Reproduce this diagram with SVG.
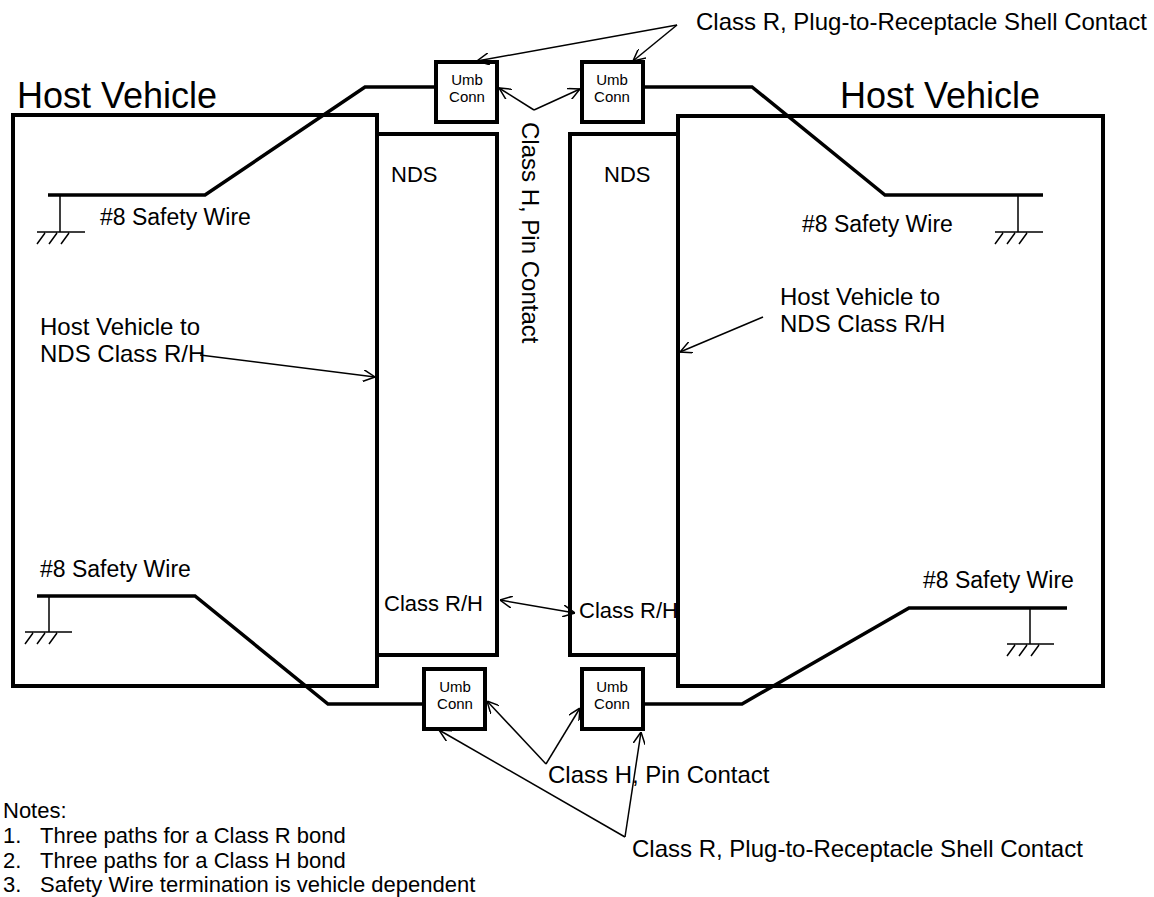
<svg xmlns="http://www.w3.org/2000/svg" width="1154" height="897" viewBox="0 0 1154 897">
<defs>
<style>
text{font-family:"Liberation Sans",Arial,sans-serif;fill:#000}
.box{fill:none;stroke:#000;stroke-width:4}
.wire{fill:none;stroke:#000;stroke-width:3.5}
.gnd{fill:none;stroke:#000;stroke-width:1.5}
.arr{fill:none;stroke:#000;stroke-width:1.5}
.big{font-size:36px}
.lbl{font-size:24px}
.sw{font-size:23px}
.nds{font-size:22px}
.umb{font-size:15px;text-anchor:middle}
.note{font-size:22px}
</style>
<marker id="ah" viewBox="0 0 12 12" refX="12" refY="6" markerWidth="12" markerHeight="12" markerUnits="userSpaceOnUse" orient="auto-start-reverse">
<path d="M0,0 L12,6 L0,12" fill="none" stroke="#000" stroke-width="1.5"/>
</marker>
</defs>
<rect width="1154" height="897" fill="#fff"/>

<g id="host-left">
<path class="box" d="M377,115 H13 V686 H377 Z"/>
<text class="big" x="17" y="108">Host Vehicle</text>
</g>
<g id="host-right">
<path class="box" d="M678,116 H1103 V686 H678 Z"/>
<text class="big" x="840" y="108">Host Vehicle</text>
</g>
<g id="nds-left">
<rect class="box" x="377" y="134" width="120" height="521"/>
<text class="nds" x="391" y="182">NDS</text>
<text class="nds" x="384" y="611">Class R/H</text>
</g>
<g id="nds-right">
<rect class="box" x="570" y="134" width="108" height="521"/>
<text class="nds" x="604" y="182">NDS</text>
<text class="nds" x="579" y="618">Class R/H</text>
</g>

<g id="umb-top-left">
<rect class="box" x="436" y="62" width="61" height="60"/>
<text class="umb" x="467" y="85">Umb</text>
<text class="umb" x="467" y="102">Conn</text>
</g>
<g id="umb-top-right">
<rect class="box" x="582" y="62" width="61" height="60"/>
<text class="umb" x="612" y="85">Umb</text>
<text class="umb" x="612" y="102">Conn</text>
</g>
<g id="umb-bottom-left">
<rect class="box" x="424" y="669" width="61" height="60"/>
<text class="umb" x="455" y="692">Umb</text>
<text class="umb" x="455" y="709">Conn</text>
</g>
<g id="umb-bottom-right">
<rect class="box" x="582" y="669" width="61" height="60"/>
<text class="umb" x="612" y="692">Umb</text>
<text class="umb" x="612" y="709">Conn</text>
</g>

<g id="wire-top-left">
<path class="wire" d="M48,195 H205 L365,87 H436"/>
<path class="gnd" d="M60,195 V232 M37,232 H85 M37,244 L45,233 M49,244 L57,233 M61,244 L69,233"/>
<text class="sw" x="100" y="225">#8  Safety Wire</text>
</g>
<g id="wire-top-right">
<path class="wire" d="M643,87 H752 L885,195 H1043"/>
<path class="gnd" d="M1018,195 V232 M995,232 H1043 M995,244 L1003,233 M1007,244 L1015,233 M1019,244 L1027,233"/>
<text class="sw" x="802" y="232">#8 Safety Wire</text>
</g>
<g id="wire-bottom-left">
<path class="wire" d="M37,596 H195 L328,704 H424"/>
<path class="gnd" d="M49,596 V632 M25,632 H72 M25,644 L33,633 M37,644 L45,633 M49,644 L57,633"/>
<text class="sw" x="40" y="577">#8 Safety Wire</text>
</g>
<g id="wire-bottom-right">
<path class="wire" d="M643,704 H742 L909,608 H1067"/>
<path class="gnd" d="M1030,608 V644 M1007,644 H1054 M1007,656 L1015,645 M1019,656 L1027,645 M1031,656 L1039,645"/>
<text class="sw" x="923" y="588">#8 Safety Wire</text>
</g>

<g id="connectors">
<path class="arr" d="M677,25 L477,61" marker-end="url(#ah)"/>
<path class="arr" d="M677,25 L633,61" marker-end="url(#ah)"/>
<path class="arr" d="M534,110 L499,88" marker-end="url(#ah)"/>
<path class="arr" d="M534,110 L580,89" marker-end="url(#ah)"/>
<path class="arr" d="M200,355 L375,377" marker-end="url(#ah)"/>
<path class="arr" d="M763,317 L680,352" marker-end="url(#ah)"/>
<path class="arr" d="M500,600 L575,613" marker-start="url(#ah)" marker-end="url(#ah)"/>
<path class="arr" d="M546,764 L487,701" marker-end="url(#ah)"/>
<path class="arr" d="M546,764 L580,708" marker-end="url(#ah)"/>
<path class="arr" d="M625,837 L439,730" marker-end="url(#ah)"/>
<path class="arr" d="M625,837 L641,732" marker-end="url(#ah)"/>
</g>

<g id="labels">
<text class="lbl" x="696" y="30">Class R, Plug-to-Receptacle Shell Contact</text>
<text class="lbl" transform="translate(522,122) rotate(90)">Class H, Pin Contact</text>
<text class="lbl" x="40" y="335">Host Vehicle to</text>
<text class="lbl" x="40" y="362">NDS Class R/H</text>
<text class="lbl" x="780" y="305">Host Vehicle to</text>
<text class="lbl" x="780" y="332">NDS Class R/H</text>
<text class="lbl" x="548" y="783">Class H, Pin Contact</text>
<text class="lbl" x="632" y="857">Class R, Plug-to-Receptacle Shell Contact</text>
</g>

<g id="notes">
<text class="note" x="3" y="818">Notes:</text>
<text class="note" x="3" y="843">1.</text><text class="note" x="40" y="843">Three paths for a Class R bond</text>
<text class="note" x="3" y="868">2.</text><text class="note" x="40" y="868">Three paths for a Class H bond</text>
<text class="note" x="3" y="892">3.</text><text class="note" x="40" y="892">Safety Wire termination is vehicle dependent</text>
</g>
</svg>
